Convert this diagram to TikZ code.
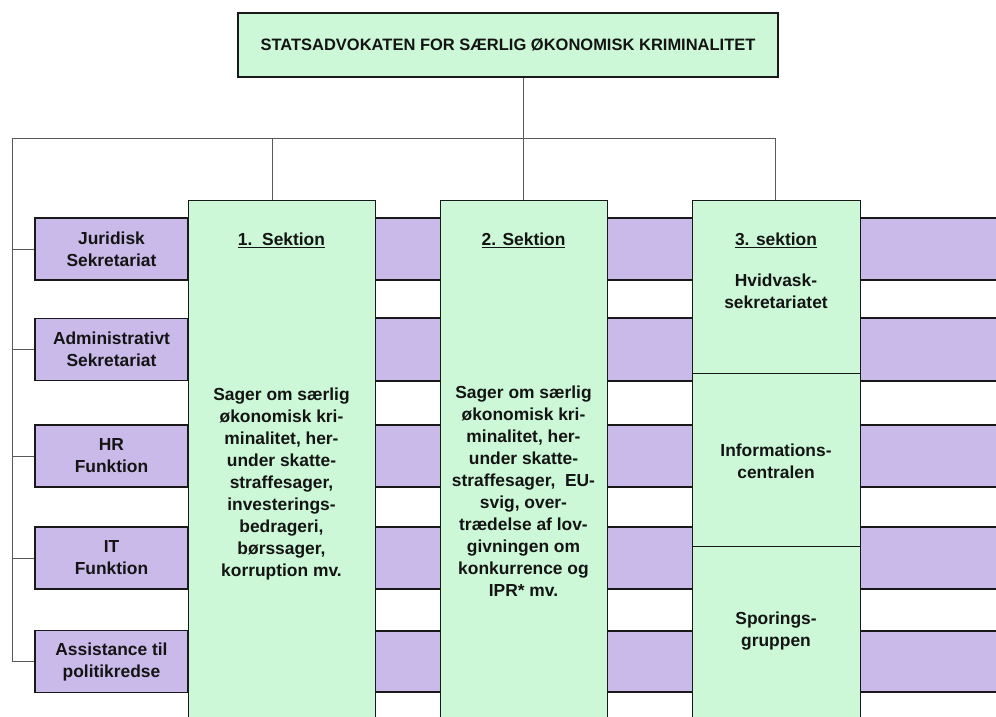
\documentclass[tikz,border=0pt]{standalone}
\usepackage{fontspec}
\setmainfont{Liberation Sans}
\definecolor{mint}{RGB}{204,248,216}
\definecolor{lav}{RGB}{202,186,234}
\begin{document}
\begin{tikzpicture}[x=1pt,y=-1pt,
  box/.style={draw=black!90,line width=1.4pt},
  conn/.style={draw=black!65,line width=0.8pt},
  txt/.style={font=\fontsize{17.4}{22}\selectfont\bfseries, align=center, text=black!92, inner sep=0pt},
  leftbox/.style={box, fill=lav, minimum width=153pt, minimum height=62pt, inner sep=0pt, txt},
  colbox/.style={box, fill=mint, anchor=north west, inner sep=0pt}]
\useasboundingbox (0,0) rectangle (996,716);
\clip (0,0) rectangle (996,716);
% purple bands
\foreach \t/\b in {218/280,318/381,425/487,527/589,631/692} {
  \fill[lav] (188,\t) rectangle (1000,\b);
  \draw[box] (188,\t) -- (1000,\t) (188,\b) -- (1000,\b);
}
% left boxes
\node[leftbox] (jur) at (111.5,249) {Juridisk\\Sekretariat};
\node[leftbox] (adm) at (111.5,349.5) {Administrativt\\Sekretariat};
\node[leftbox] (hr) at (111.5,456) {HR\\Funktion};
\node[leftbox] (it) at (111.5,558) {IT\\Funktion};
\node[leftbox] (ass) at (111.5,661.5) {Assistance til\\politikredse};
% columns
\node[colbox, minimum width=187pt, minimum height=540pt] (s1) at (188,200) {};
\node[colbox, minimum width=167pt, minimum height=540pt] (s2) at (440,200) {};
\node[colbox, minimum width=168pt, minimum height=173pt] (s3a) at (692,200) {};
\node[colbox, minimum width=168pt, minimum height=173pt] (s3b) at (692,373) {};
\node[colbox, minimum width=168pt, minimum height=190pt] (s3c) at (692,546) {};
% column texts
\node[txt] (s1h) at (281.5,240) {\underline{1.\ \ Sektion}};
\node[txt] (s1t) at (281.5,483.5) {Sager om særlig\\økonomisk kri-\\minalitet, her-\\under skatte-\\straffesager,\\investerings-\\bedrageri,\\børssager,\\korruption mv.};
\node[txt] (s2h) at (523.5,240) {\underline{2. Sektion}};
\node[txt] (s2t) at (523.5,491.5) {Sager om særlig\\økonomisk kri-\\minalitet, her-\\under skatte-\\straffesager,\ \ EU-\\svig, over-\\trædelse af lov-\\givningen om\\konkurrence og\\IPR* mv.};
\node[txt] (s3h) at (776,240) {\underline{3. sektion}};
\node[txt] (s3at) at (776,291) {Hvidvask-\\sekretariatet};
\node[txt] (s3bt) at (776,461) {Informations-\\centralen};
\node[txt] (s3ct) at (776,631.5) {Sporings-\\gruppen};
% top box
\node[box, fill=mint, minimum width=540pt, minimum height=64pt, inner sep=0pt,
  font=\fontsize{16.5}{19}\selectfont\bfseries, text=black!92] (top) at (508,45)
  {STATSADVOKATEN FOR SÆRLIG ØKONOMISK KRIMINALITET};
% connectors
\coordinate (bl) at (12,138);
\coordinate (br) at (775,138);
\coordinate (j) at (523,138);
\coordinate (d1) at (272,138);
\draw[conn] (top.south -| j) -- (j);
\draw[conn] (bl) -- (br);
\draw[conn] (d1) -- (s1.north -| d1);
\draw[conn] (j) -- (s2.north -| j);
\draw[conn] (br) -- (s3a.north -| br);
\draw[conn] (bl) -- (bl |- ass.west);
\foreach \n in {jur,adm,hr,it,ass} {
  \draw[conn] (\n.west) -- (\n.west -| bl);
}
\end{tikzpicture}
\end{document}
